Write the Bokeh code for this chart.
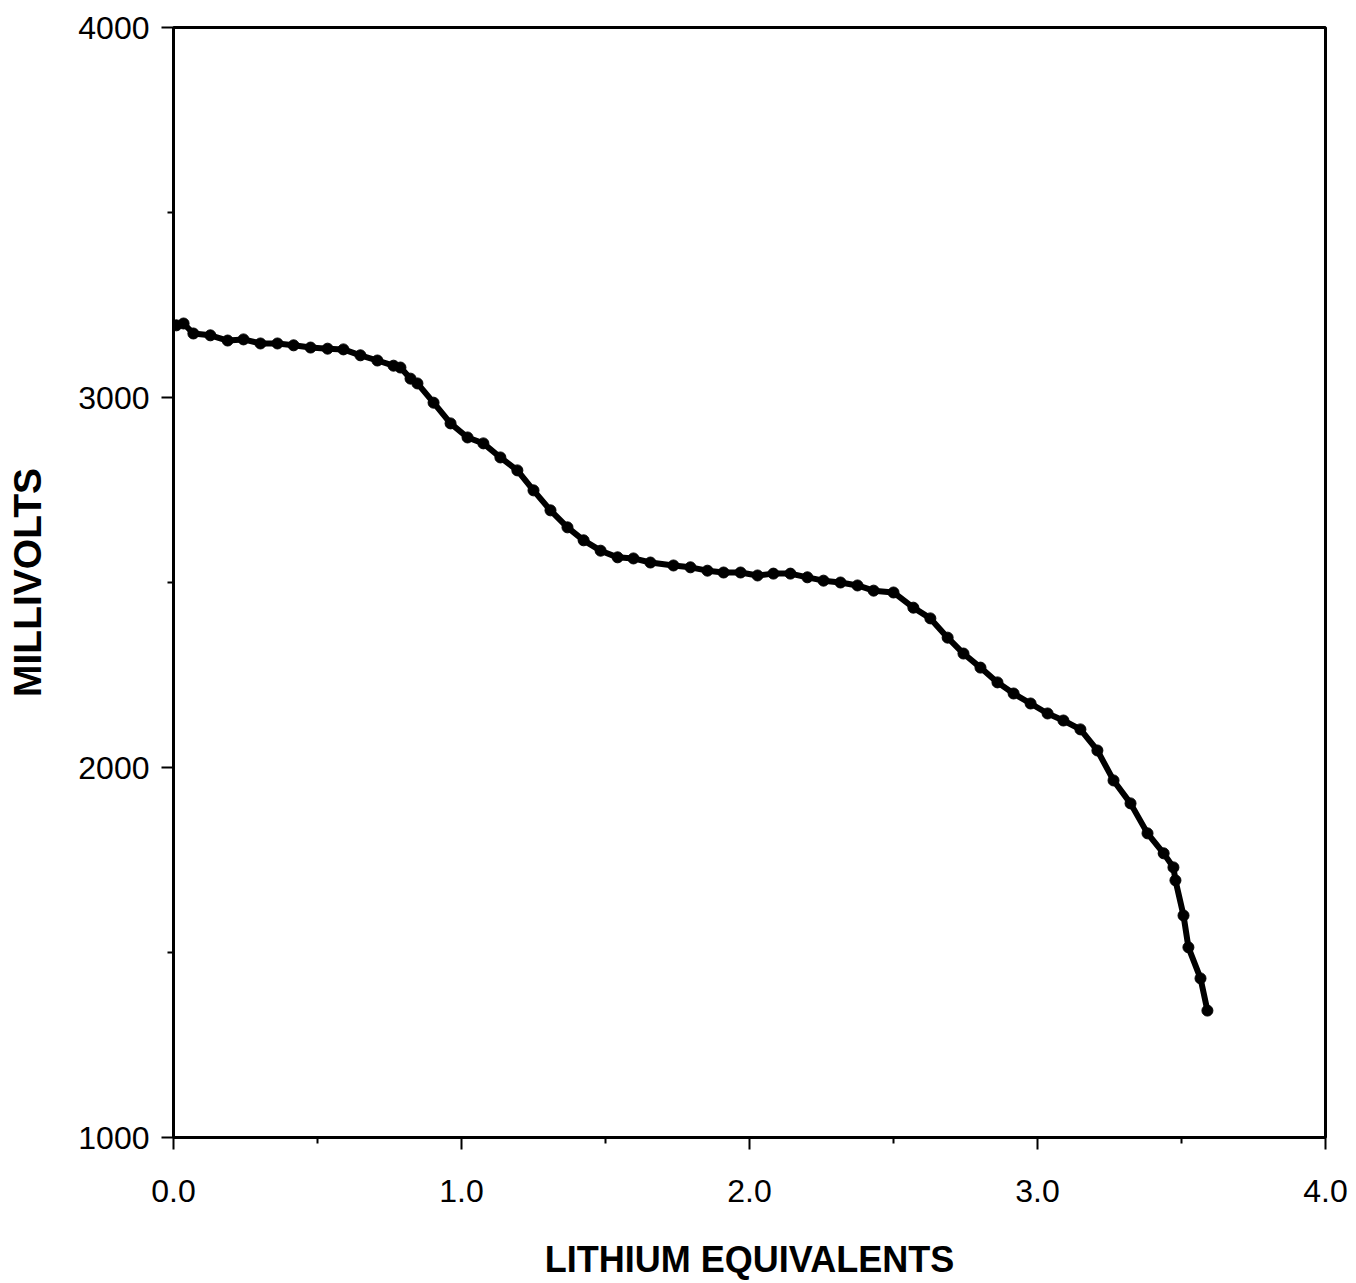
from bokeh.plotting import figure
from bokeh.models import Range1d, FixedTicker
from bokeh.embed import file_html
from bokeh.resources import INLINE

# Discharge curve
lithium_eq = [0.010, 0.035, 0.069, 0.128, 0.188, 0.243, 0.302, 0.361, 0.417, 0.476,
              0.535, 0.590, 0.649, 0.708, 0.764, 0.788, 0.823, 0.847, 0.903, 0.962,
              1.021, 1.076, 1.135, 1.194, 1.250, 1.309, 1.368, 1.424, 1.483, 1.542,
              1.597, 1.656, 1.736, 1.795, 1.854, 1.910, 1.969, 2.028, 2.083, 2.142,
              2.201, 2.257, 2.316, 2.375, 2.431, 2.500, 2.569, 2.628, 2.688, 2.743,
              2.802, 2.861, 2.917, 2.976, 3.035, 3.090, 3.149, 3.208, 3.264, 3.323,
              3.382, 3.438, 3.472, 3.479, 3.507, 3.524, 3.566, 3.590]
millivolts = [3195, 3200, 3173, 3168, 3154, 3157, 3146, 3146, 3141, 3135,
              3132, 3130, 3114, 3100, 3086, 3081, 3051, 3038, 2986, 2930,
              2892, 2876, 2838, 2803, 2749, 2695, 2649, 2614, 2586, 2568,
              2565, 2554, 2546, 2541, 2532, 2527, 2527, 2519, 2524, 2524,
              2514, 2505, 2500, 2492, 2478, 2473, 2432, 2403, 2351, 2308,
              2270, 2230, 2200, 2173, 2146, 2127, 2103, 2046, 1965, 1903,
              1822, 1768, 1730, 1695, 1600, 1514, 1430, 1343]

x_ticks = [0, 1, 2, 3, 4]
x_tick_labels = ["0.0", "1.0", "2.0", "3.0", "4.0"]
x_minor = [0.5, 1.5, 2.5, 3.5]
y_ticks = [1000, 2000, 3000, 4000]
y_tick_labels = ["1000", "2000", "3000", "4000"]
y_minor = [1500, 2500, 3500]

FONT = "Liberation Sans"

p = figure(frame_width=1152, frame_height=1110,
           x_range=Range1d(0, 4), y_range=Range1d(1000, 4000),
           output_backend="svg", toolbar_location=None,
           min_border_left=173, min_border_top=27, min_border_right=25,
           min_border_bottom=135,
           x_axis_label="LITHIUM EQUIVALENTS", y_axis_label="MILLIVOLTS")

p.background_fill_color = "white"
p.border_fill_color = "white"
p.outline_line_color = "black"
p.outline_line_width = 3
p.grid.visible = False

p.xaxis.ticker = FixedTicker(ticks=x_ticks, minor_ticks=x_minor)
p.yaxis.ticker = FixedTicker(ticks=y_ticks, minor_ticks=y_minor)
p.xaxis.major_label_overrides = {t: l for t, l in zip(x_ticks, x_tick_labels)}
p.yaxis.major_label_overrides = {t: l for t, l in zip(y_ticks, y_tick_labels)}

for ax in (p.xaxis, p.yaxis):
    ax.axis_line_color = "black"
    ax.axis_line_width = 3
    ax.major_tick_line_color = "black"
    ax.major_tick_line_width = 2
    ax.minor_tick_line_color = "black"
    ax.minor_tick_line_width = 2
    ax.major_tick_in = 0
    ax.major_tick_out = 12
    ax.minor_tick_in = 0
    ax.minor_tick_out = 6
    ax.major_label_text_font = FONT
    ax.major_label_text_font_size = "32px"
    ax.major_label_text_color = "black"
    ax.axis_label_text_font = FONT
    ax.axis_label_text_font_style = "bold"
    ax.axis_label_text_color = "black"

p.xaxis.axis_label_text_font_size = "36px"
p.yaxis.axis_label_text_font_size = "39px"
p.xaxis.major_label_standoff = 30
p.yaxis.major_label_standoff = 12
p.xaxis.axis_label_standoff = 34
p.yaxis.axis_label_standoff = 26

p.line(lithium_eq, millivolts, line_color="black", line_width=6)
p.scatter(lithium_eq, millivolts, marker="circle", size=11,
          fill_color="black", line_color="black")

open("out.html", "w").write(file_html(p, INLINE))
